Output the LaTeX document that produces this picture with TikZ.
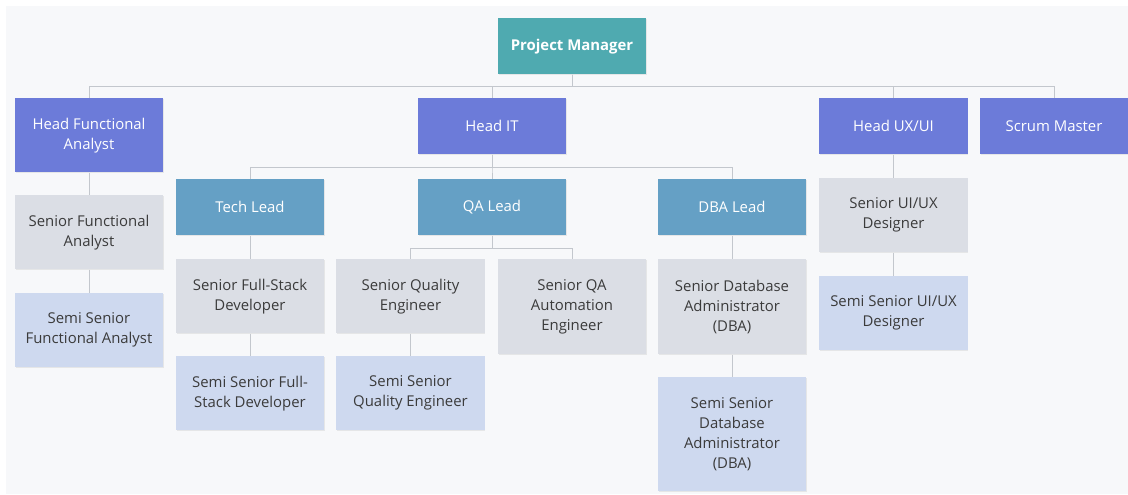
\documentclass[tikz,border=0pt]{standalone}
\usepackage{fontspec}
\setmainfont{Open Sans}
\usetikzlibrary{shadows}
\definecolor{pagebg}{HTML}{F7F8FA}
\definecolor{pmcol}{HTML}{4FAAB0}
\definecolor{headcol}{HTML}{6C7BD9}
\definecolor{leadcol}{HTML}{65A0C5}
\definecolor{srcol}{HTML}{DBDEE5}
\definecolor{semicol}{HTML}{CED9EF}
\definecolor{linkcol}{HTML}{C3C7CD}
\definecolor{txtcol}{HTML}{3B3B3B}
\begin{document}
\begin{tikzpicture}[x=0.025cm,y=-0.025cm,
  box/.style={anchor=north,minimum width=3.7cm,minimum height=1.4cm,inner sep=2pt,align=center,
    font=\fontsize{10.6}{14.2}\selectfont,drop shadow={shadow xshift=0.6pt,shadow yshift=-0.8pt,opacity=0.15}},
  pmbox/.style={box,fill=pmcol,text=white,font=\fontsize{10.6}{14.2}\selectfont\bfseries},
  headbox/.style={box,fill=headcol,text=white},
  leadbox/.style={box,fill=leadcol,text=white},
  srbox/.style={box,fill=srcol,text=txtcol},
  semibox/.style={box,fill=semicol,text=txtcol},
  two/.style={minimum height=1.85cm},
  three/.style={minimum height=2.375cm},
  four/.style={minimum height=2.85cm},
  link/.style={draw=linkcol,line width=0.6pt}]
  \useasboundingbox (0,0) rectangle (1128,494);
  \fill[white] (0,0) rectangle (1128,494);
  \fill[pagebg] (6,6) rectangle (1128,494);

  % top level
  \node[pmbox] (pm) at (572,18) {Project Manager};
  \node[headbox,two] (hfa) at (89,98) {Head Functional\\Analyst};
  \node[headbox] (hit) at (492,98) {Head IT};
  \node[headbox] (hux) at (893.5,98) {Head UX/UI};
  \node[headbox] (sm) at (1054,98) {Scrum Master};

  % leads under head IT
  \node[leadbox] (tl) at (250,179) {Tech Lead};
  \node[leadbox] (qa) at (492,179) {QA Lead};
  \node[leadbox] (dba) at (732,179) {DBA Lead};

  % functional analysts
  \node[srbox,two] (sfa) at (89,195) {Senior Functional\\Analyst};
  \node[semibox,two] (ssfa) at (89,293) {Semi Senior\\Functional Analyst};

  % developers
  \node[srbox,two] (sfs) at (250,259) {Senior Full-Stack\\Developer};
  \node[semibox,two] (ssfs) at (250,356) {Semi Senior Full-\\Stack Developer};

  % quality
  \node[srbox,two] (sqe) at (410.5,259) {Senior Quality\\Engineer};
  \node[semibox,two] (ssqe) at (410.5,356) {Semi Senior\\Quality Engineer};
  \node[srbox,three] (sqa) at (572,259) {Senior QA\\Automation\\Engineer};

  % database
  \node[srbox,three] (sdba) at (732,259) {Senior Database\\Administrator\\(DBA)};
  \node[semibox,four] (ssdba) at (732,377) {Semi Senior\\Database\\Administrator\\(DBA)};

  % design
  \node[srbox,two] (sux) at (893.5,178) {Senior UI/UX\\Designer};
  \node[semibox,two] (ssux) at (893.5,276) {Semi Senior UI/UX\\Designer};

  % connectors
  \foreach \c in {hfa,hit,hux,sm}
    \draw[link] (pm.south) -- ++(0,12) -| (\c.north);
  \foreach \c in {tl,qa,dba}
    \draw[link] (hit.south) -- ++(0,13) -| (\c.north);
  \foreach \c in {sqe,sqa}
    \draw[link] (qa.south) -- ++(0,13) -| (\c.north);
  \draw[link] (hfa) -- (sfa) (sfa) -- (ssfa);
  \draw[link] (tl) -- (sfs) (sfs) -- (ssfs);
  \draw[link] (sqe) -- (ssqe);
  \draw[link] (dba) -- (sdba) (sdba) -- (ssdba);
  \draw[link] (hux) -- (sux) (sux) -- (ssux);
\end{tikzpicture}
\end{document}
